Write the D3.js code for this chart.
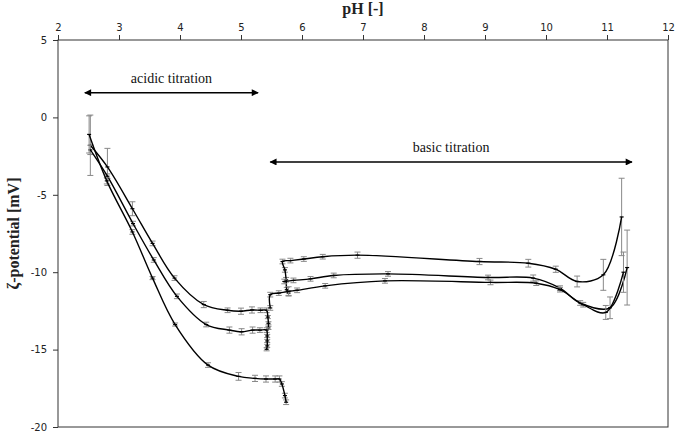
<!DOCTYPE html>
<html>
<head>
<meta charset="utf-8">
<script src="https://cdn.jsdelivr.net/npm/d3@7"></script>
<style>
  html, body { margin: 0; padding: 0; background: #fff; }
  svg { display: block; }
  .tick text { font-family: "DejaVu Sans", Verdana, sans-serif; font-size: 10px; fill: #222; }
  .axis-title { font-family: "Liberation Serif", "Times New Roman", serif; font-weight: bold; font-size: 16px; fill: #222; }
  .note { font-family: "Liberation Serif", "Times New Roman", serif; font-size: 14px; fill: #111; }
</style>
</head>
<body>
<svg id="chart" width="676" height="434"></svg>
<script>
// pH ticks (top axis) and zeta ticks (left axis)
var phTicks = [2, 3, 4, 5, 6, 7, 8, 9, 10, 11, 12];
var zetaTicks = [5, 0, -5, -10, -15, -20];

// acidic titration, three runs
var acidA_pH = [2.53, 2.81, 3.22, 3.55, 3.91, 4.39, 4.78, 5.0, 5.18, 5.32, 5.42, 5.44, 5.45, 5.45];
var acidA_zeta = [-1.8, -3.2, -5.9, -8.14, -10.38, -12.09, -12.46, -12.52, -12.44, -12.46, -12.46, -12.9, -13.3, -13.6];
var acidA_err = [1.95, 1.2, 0.45, 0.15, 0.15, 0.2, 0.15, 0.2, 0.2, 0.15, 0.15, 0.1, 0.1, 0.1];

var acidB_pH = [2.53, 2.81, 3.23, 3.57, 3.95, 4.43, 4.81, 5.01, 5.19, 5.31, 5.42, 5.43, 5.43, 5.43, 5.42];
var acidB_zeta = [-2.1, -3.8, -6.86, -9.21, -11.56, -13.38, -13.74, -13.85, -13.74, -13.74, -13.74, -14.12, -14.44, -14.76, -14.98];
var acidB_err = [0.3, 0.15, 0.15, 0.15, 0.15, 0.15, 0.2, 0.2, 0.2, 0.15, 0.15, 0.1, 0.1, 0.1, 0.1];

var acidC_pH = [2.51, 2.8, 3.22, 3.55, 3.92, 4.46, 4.96, 5.23, 5.41, 5.56, 5.63, 5.67, 5.72, 5.74];
var acidC_zeta = [-1.1, -4.1, -7.4, -10.38, -13.38, -16.0, -16.73, -16.86, -16.9, -16.9, -16.9, -17.22, -17.97, -18.4];
var acidC_err = [1.2, 0.2, 0.15, 0.1, 0.1, 0.15, 0.25, 0.2, 0.2, 0.2, 0.2, 0.15, 0.15, 0.15];

// basic titration, three runs
var basicA_pH = [5.78, 5.75, 5.74, 5.72, 5.68, 5.81, 6.03, 6.34, 6.91, 8.91, 9.71, 10.16, 10.51, 10.94, 11.24];
var basicA_zeta = [-11.35, -11.13, -10.49, -9.85, -9.31, -9.25, -9.15, -9.0, -8.9, -9.31, -9.42, -9.81, -10.6, -10.17, -6.43];
var basicA_err = [0.15, 0.15, 0.15, 0.15, 0.15, 0.15, 0.15, 0.15, 0.2, 0.2, 0.25, 0.2, 0.35, 1.0, 2.5];

var basicB_pH = [5.71, 5.86, 6.14, 6.52, 7.41, 9.05, 9.79, 10.23, 10.56, 11.05, 11.33];
var basicB_zeta = [-10.6, -10.53, -10.43, -10.21, -10.11, -10.34, -10.38, -11.03, -11.99, -12.3, -9.7];
var basicB_err = [0.15, 0.15, 0.15, 0.15, 0.15, 0.15, 0.2, 0.15, 0.15, 0.7, 2.42];

var basicC_pH = [5.48, 5.48, 5.62, 5.78, 5.92, 6.38, 7.36, 9.09, 9.84, 10.23, 10.61, 10.98, 11.27];
var basicC_zeta = [-12.31, -11.45, -11.35, -11.24, -11.17, -10.88, -10.56, -10.66, -10.71, -11.13, -12.1, -12.6, -10.0];
var basicC_err = [0.15, 0.15, 0.15, 0.3, 0.15, 0.15, 0.15, 0.15, 0.15, 0.15, 0.15, 0.45, 1.3];

// annotation arrows: [pH from, pH to, zeta]
var acidicArrow = [2.44, 5.28, 1.6];
var basicArrow = [5.48, 11.41, -2.88];

function zip(ph, zeta, err) {
  return ph.map(function (p, i) { return { x: p, y: zeta[i], e: err[i] }; });
}

var series = [
  zip(acidA_pH, acidA_zeta, acidA_err),
  zip(acidB_pH, acidB_zeta, acidB_err),
  zip(acidC_pH, acidC_zeta, acidC_err),
  zip(basicA_pH, basicA_zeta, basicA_err),
  zip(basicB_pH, basicB_zeta, basicB_err),
  zip(basicC_pH, basicC_zeta, basicC_err)
];

var margin = { top: 40, right: 8, bottom: 7, left: 58 };
var width = 676 - margin.left - margin.right;
var height = 434 - margin.top - margin.bottom;

var svg = d3.select("#chart");
var defs = svg.append("defs");
["arrow-end", "arrow-start"].forEach(function (id, i) {
  defs.append("marker")
    .attr("id", id)
    .attr("viewBox", "0 0 10 10")
    .attr("refX", i === 0 ? 9 : 1).attr("refY", 5)
    .attr("markerWidth", 9).attr("markerHeight", 7)
    .attr("markerUnits", "userSpaceOnUse")
    .attr("orient", "auto")
    .append("path")
    .attr("d", i === 0 ? "M0,0L10,5L0,10Z" : "M10,0L0,5L10,10Z")
    .attr("fill", "#000");
});

var g = svg.append("g").attr("transform", "translate(" + margin.left + "," + margin.top + ")");

var x = d3.scaleLinear().domain([2, 12]).range([0, width]);
var y = d3.scaleLinear().domain([-20, 5]).range([height, 0]);

// frame
g.append("rect")
  .attr("x", 0).attr("y", 0).attr("width", width).attr("height", height)
  .attr("fill", "none").attr("stroke", "#333").attr("stroke-width", 1);

var xAxis = g.append("g")
  .call(d3.axisTop(x).tickValues(phTicks).tickSize(5).tickPadding(4).tickFormat(String));
var yAxis = g.append("g")
  .call(d3.axisLeft(y).tickValues(zetaTicks).tickSize(5).tickPadding(6).tickFormat(String));
[xAxis, yAxis].forEach(function (a) {
  a.select(".domain").remove();
  a.selectAll(".tick line").attr("stroke", "#333");
});

svg.append("text").attr("class", "axis-title")
  .attr("x", margin.left + width / 2).attr("y", 14)
  .attr("text-anchor", "middle").text("pH [-]");

svg.append("text").attr("class", "axis-title")
  .attr("transform", "translate(19," + (margin.top + height / 2) + ") rotate(-90)")
  .attr("text-anchor", "middle").text("ζ-potential [mV]");

var line = d3.line()
  .x(function (d) { return x(d.x); })
  .y(function (d) { return y(d.y); })
  .curve(d3.curveCatmullRom.alpha(0.5));

series.forEach(function (data) {
  var s = g.append("g");

  var bars = s.selectAll(".err").data(data).enter().append("g").attr("class", "err")
    .attr("stroke", "#888").attr("stroke-width", 1);
  bars.append("line")
    .attr("x1", function (d) { return x(d.x); }).attr("x2", function (d) { return x(d.x); })
    .attr("y1", function (d) { return y(d.y + d.e); }).attr("y2", function (d) { return y(d.y - d.e); });
  bars.append("line")
    .attr("x1", function (d) { return x(d.x) - 3; }).attr("x2", function (d) { return x(d.x) + 3; })
    .attr("y1", function (d) { return y(d.y + d.e); }).attr("y2", function (d) { return y(d.y + d.e); });
  bars.append("line")
    .attr("x1", function (d) { return x(d.x) - 3; }).attr("x2", function (d) { return x(d.x) + 3; })
    .attr("y1", function (d) { return y(d.y - d.e); }).attr("y2", function (d) { return y(d.y - d.e); });

  s.append("path").datum(data)
    .attr("d", line)
    .attr("fill", "none").attr("stroke", "#000").attr("stroke-width", 1.4);

  s.selectAll(".pt").data(data).enter().append("line").attr("class", "pt")
    .attr("x1", function (d) { return x(d.x) - 2; }).attr("x2", function (d) { return x(d.x) + 2; })
    .attr("y1", function (d) { return y(d.y); }).attr("y2", function (d) { return y(d.y); })
    .attr("stroke", "#000").attr("stroke-width", 1.2);
});

function arrow(a, label) {
  g.append("line")
    .attr("x1", x(a[0])).attr("x2", x(a[1]))
    .attr("y1", y(a[2])).attr("y2", y(a[2]))
    .attr("stroke", "#000").attr("stroke-width", 1.5)
    .attr("marker-start", "url(#arrow-start)")
    .attr("marker-end", "url(#arrow-end)");
  g.append("text").attr("class", "note")
    .attr("x", (x(a[0]) + x(a[1])) / 2).attr("y", y(a[2]) - 10)
    .attr("text-anchor", "middle").text(label);
}
arrow(acidicArrow, "acidic titration");
arrow(basicArrow, "basic titration");
</script>
</body>
</html>
